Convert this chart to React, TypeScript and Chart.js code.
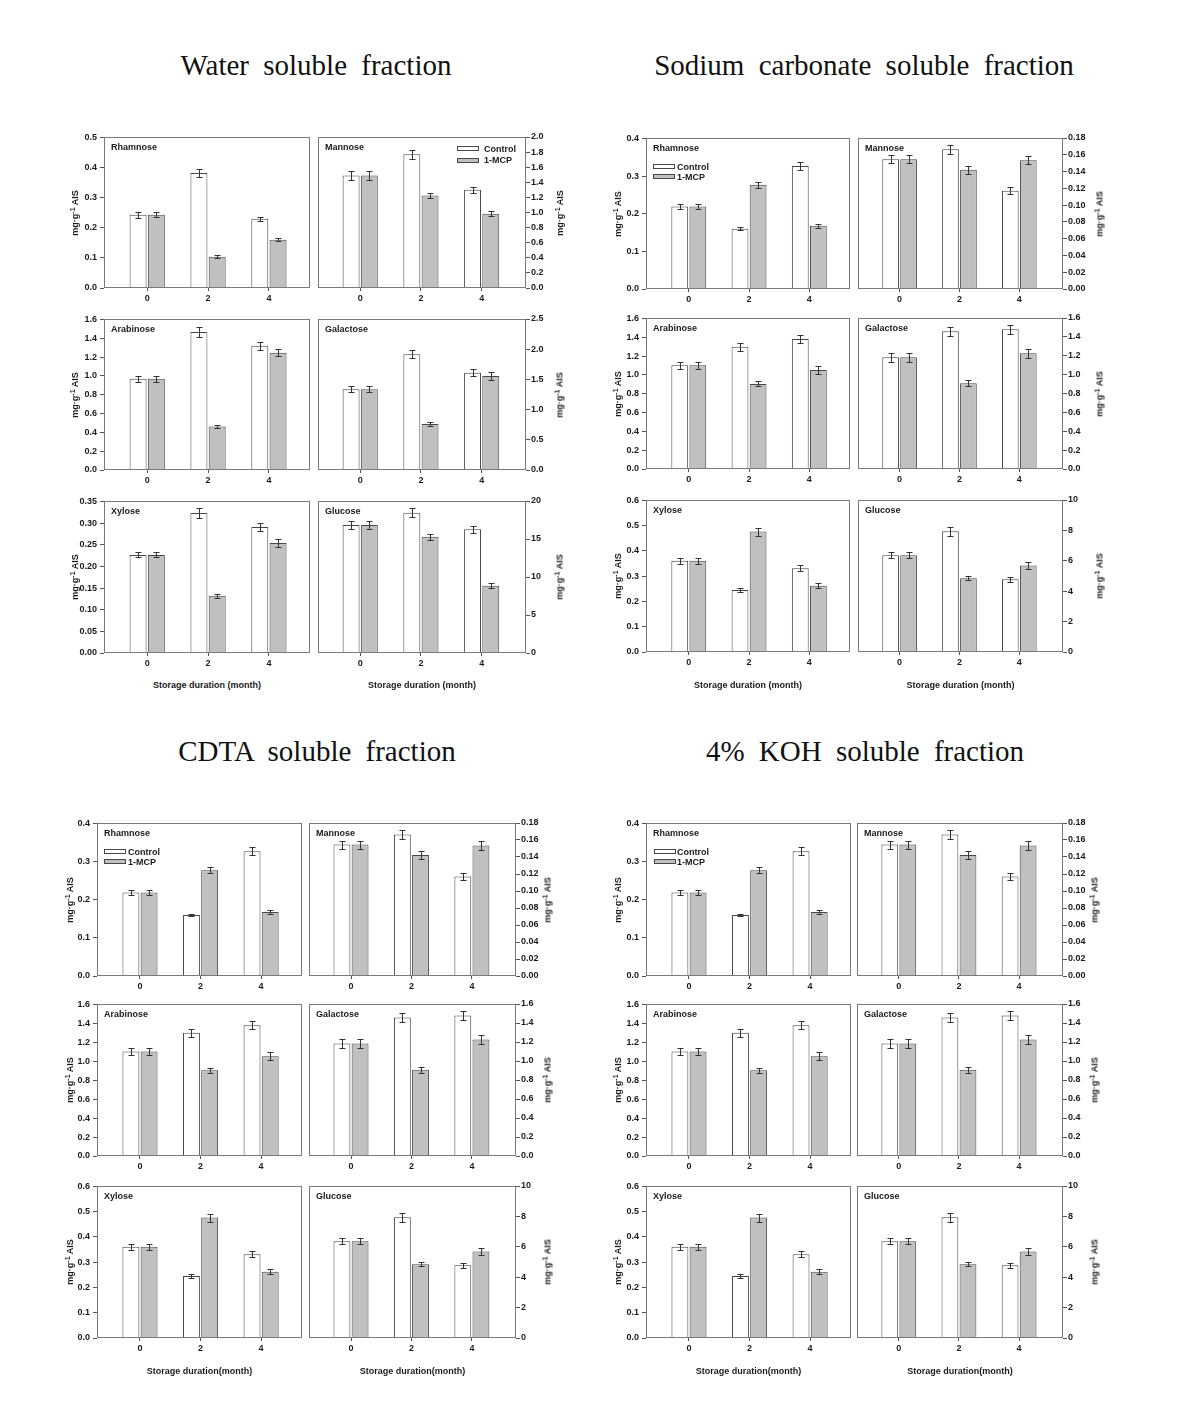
import React, { useEffect, useRef } from 'react';
import { Chart, registerables } from 'chart.js';

Chart.register(...registerables);

// ---------------- data ----------------
const months = [0, 2, 4];
const seriesNames = ['Control', '1-MCP'];

// Water soluble fraction
const wRhaCtl = [0.243, 0.382, 0.230];
const wRhaCtlErr = [0.009, 0.013, 0.007];
const wRhaMcp = [0.243, 0.104, 0.160];
const wRhaMcpErr = [0.008, 0.005, 0.005];
const wRhaTicks = [0, 0.1, 0.2, 0.3, 0.4, 0.5];

const wManCtl = [1.49, 1.77, 1.30];
const wManCtlErr = [0.055, 0.055, 0.044];
const wManMcp = [1.49, 1.225, 0.985];
const wManMcpErr = [0.055, 0.035, 0.033];
const wManTicks = [0, 0.2, 0.4, 0.6, 0.8, 1.0, 1.2, 1.4, 1.6, 1.8, 2.0];

const wAraCtl = [0.97, 1.466, 1.321];
const wAraCtlErr = [0.032, 0.048, 0.044];
const wAraMcp = [0.97, 0.463, 1.247];
const wAraMcpErr = [0.032, 0.012, 0.04];
const wAraTicks = [0, 0.2, 0.4, 0.6, 0.8, 1.0, 1.2, 1.4, 1.6];

const wGalCtl = [1.336, 1.915, 1.611];
const wGalCtlErr = [0.05, 0.066, 0.055];
const wGalMcp = [1.336, 0.762, 1.556];
const wGalMcpErr = [0.05, 0.03, 0.06];
const wGalTicks = [0, 0.5, 1.0, 1.5, 2.0, 2.5];

const wXylCtl = [0.2264, 0.3231, 0.2909];
const wXylCtlErr = [0.0058, 0.011, 0.009];
const wXylMcp = [0.2264, 0.132, 0.254];
const wXylMcpErr = [0.0058, 0.004, 0.009];
const wXylTicks = [0, 0.05, 0.10, 0.15, 0.20, 0.25, 0.30, 0.35];

const wGluCtl = [16.84, 18.46, 16.27];
const wGluCtlErr = [0.55, 0.6, 0.5];
const wGluMcp = [16.84, 15.3, 8.86];
const wGluMcpErr = [0.55, 0.42, 0.29];
const wGluTicks = [0, 5, 10, 15, 20];

// Sodium carbonate / CDTA / 4% KOH soluble fractions (the three blocks show the same values)
const sRhaCtl = [0.219, 0.160, 0.327];
const sRhaCtlErr = [0.006, 0.0035, 0.011];
const sRhaMcp = [0.219, 0.277, 0.168];
const sRhaMcpErr = [0.006, 0.008, 0.0053];
const sRhaTicks = [0, 0.1, 0.2, 0.3, 0.4];

const sManCtl = [0.1546, 0.1665, 0.117];
const sManCtlErr = [0.0048, 0.005, 0.004];
const sManMcp = [0.1546, 0.1423, 0.1535];
const sManMcpErr = [0.0048, 0.0048, 0.005];
const sManTicks = [0, 0.02, 0.04, 0.06, 0.08, 0.10, 0.12, 0.14, 0.16, 0.18];

const sAraCtl = [1.102, 1.30, 1.381];
const sAraCtlErr = [0.039, 0.042, 0.042];
const sAraMcp = [1.102, 0.904, 1.053];
const sAraMcpErr = [0.039, 0.026, 0.042];
const sAraTicks = [0, 0.2, 0.4, 0.6, 0.8, 1.0, 1.2, 1.4, 1.6];

const sGalCtl = [1.183, 1.459, 1.48];
const sGalCtlErr = [0.051, 0.049, 0.048];
const sGalMcp = [1.183, 0.908, 1.226];
const sGalMcpErr = [0.051, 0.03, 0.048];
const sGalTicks = [0, 0.2, 0.4, 0.6, 0.8, 1.0, 1.2, 1.4, 1.6];

const sXylCtl = [0.361, 0.2455, 0.331];
const sXylCtlErr = [0.011, 0.009, 0.012];
const sXylMcp = [0.361, 0.4766, 0.2626];
const sXylMcpErr = [0.011, 0.016, 0.01];
const sXylTicks = [0, 0.1, 0.2, 0.3, 0.4, 0.5, 0.6];

const sGluCtl = [6.37, 7.94, 4.79];
const sGluCtlErr = [0.21, 0.28, 0.16];
const sGluMcp = [6.37, 4.86, 5.69];
const sGluMcpErr = [0.21, 0.14, 0.25];
const sGluTicks = [0, 2, 4, 6, 8, 10];

// ---------------- types / panels ----------------
type PanelData = {
  name: string;
  ctl: number[];
  ctlErr: number[];
  mcp: number[];
  mcpErr: number[];
  yTicks: number[];
  decimals: number;
};

const waterPanels: PanelData[] = [
  { name: 'Rhamnose', ctl: wRhaCtl, ctlErr: wRhaCtlErr, mcp: wRhaMcp, mcpErr: wRhaMcpErr, yTicks: wRhaTicks, decimals: 1 },
  { name: 'Mannose', ctl: wManCtl, ctlErr: wManCtlErr, mcp: wManMcp, mcpErr: wManMcpErr, yTicks: wManTicks, decimals: 1 },
  { name: 'Arabinose', ctl: wAraCtl, ctlErr: wAraCtlErr, mcp: wAraMcp, mcpErr: wAraMcpErr, yTicks: wAraTicks, decimals: 1 },
  { name: 'Galactose', ctl: wGalCtl, ctlErr: wGalCtlErr, mcp: wGalMcp, mcpErr: wGalMcpErr, yTicks: wGalTicks, decimals: 1 },
  { name: 'Xylose', ctl: wXylCtl, ctlErr: wXylCtlErr, mcp: wXylMcp, mcpErr: wXylMcpErr, yTicks: wXylTicks, decimals: 2 },
  { name: 'Glucose', ctl: wGluCtl, ctlErr: wGluCtlErr, mcp: wGluMcp, mcpErr: wGluMcpErr, yTicks: wGluTicks, decimals: 0 },
];

const otherPanels: PanelData[] = [
  { name: 'Rhamnose', ctl: sRhaCtl, ctlErr: sRhaCtlErr, mcp: sRhaMcp, mcpErr: sRhaMcpErr, yTicks: sRhaTicks, decimals: 1 },
  { name: 'Mannose', ctl: sManCtl, ctlErr: sManCtlErr, mcp: sManMcp, mcpErr: sManMcpErr, yTicks: sManTicks, decimals: 2 },
  { name: 'Arabinose', ctl: sAraCtl, ctlErr: sAraCtlErr, mcp: sAraMcp, mcpErr: sAraMcpErr, yTicks: sAraTicks, decimals: 1 },
  { name: 'Galactose', ctl: sGalCtl, ctlErr: sGalCtlErr, mcp: sGalMcp, mcpErr: sGalMcpErr, yTicks: sGalTicks, decimals: 1 },
  { name: 'Xylose', ctl: sXylCtl, ctlErr: sXylCtlErr, mcp: sXylMcp, mcpErr: sXylMcpErr, yTicks: sXylTicks, decimals: 1 },
  { name: 'Glucose', ctl: sGluCtl, ctlErr: sGluCtlErr, mcp: sGluMcp, mcpErr: sGluMcpErr, yTicks: sGluTicks, decimals: 0 },
];

// ---------------- layout ----------------
type BlockLayout = {
  title: string;
  titleX: number;
  titleY: number;
  xTitle: string;
  xTitleY: number;
  colLeft: number[];
  colWidth: number[];
  yTitleX: number[];
  rowTop: number[];
  rowHeight: number[];
  legend: { panel: number; dx: number; dy: number; textDx: number; rowGap: number };
  panels: PanelData[];
};

const blocks: BlockLayout[] = [
  {
    title: 'Water soluble fraction', titleX: 316, titleY: 65,
    xTitle: 'Storage duration (month)', xTitleY: 685,
    colLeft: [104, 318], colWidth: [206, 208], yTitleX: [75, 560],
    rowTop: [137, 319, 501], rowHeight: [151, 151, 152],
    legend: { panel: 1, dx: 139, dy: 9, textDx: 27, rowGap: 11.5 },
    panels: waterPanels,
  },
  {
    title: 'Sodium carbonate soluble fraction', titleX: 864, titleY: 65,
    xTitle: 'Storage duration (month)', xTitleY: 685,
    colLeft: [646, 858], colWidth: [204, 205], yTitleX: [618, 1100],
    rowTop: [138, 318, 500], rowHeight: [151, 151, 152],
    legend: { panel: 0, dx: 7, dy: 26, textDx: 24, rowGap: 10 },
    panels: otherPanels,
  },
  {
    title: 'CDTA soluble fraction', titleX: 317, titleY: 751,
    xTitle: 'Storage duration(month)', xTitleY: 1371,
    colLeft: [97, 309], colWidth: [205, 207], yTitleX: [70, 548],
    rowTop: [823, 1004, 1186], rowHeight: [153, 152, 152],
    legend: { panel: 0, dx: 7, dy: 26, textDx: 24, rowGap: 10 },
    panels: otherPanels,
  },
  {
    title: '4% KOH soluble fraction', titleX: 865, titleY: 751,
    xTitle: 'Storage duration(month)', xTitleY: 1371,
    colLeft: [646, 857], colWidth: [205, 206], yTitleX: [618, 1095],
    rowTop: [823, 1004, 1186], rowHeight: [153, 152, 152],
    legend: { panel: 0, dx: 8, dy: 26, textDx: 23, rowGap: 10 },
    panels: otherPanels,
  },
];

const X_RANGE = [
  [-1.42, 5.35],
  [-1.39, 5.46],
];
const AXIS_ROOM = 46;
const EDGE = 6;
const TOP_ROOM = 8;
const BOTTOM_ROOM = 22;
const FONT = '"Liberation Sans", Arial, Helvetica, sans-serif';
const TEXT_COLOR = '#1a1a1a';
const BAR_BORDER = '#474747';
const FRAME_COLOR = '#7a7a7a';
const MCP_FILL = '#c0c0c0';

// ---------------- plugins ----------------
const framePlugin = {
  id: 'frameBox',
  afterDatasetsDraw(chart: any) {
    const { ctx, chartArea: a } = chart;
    ctx.save();
    ctx.strokeStyle = FRAME_COLOR;
    ctx.lineWidth = 1;
    ctx.strokeRect(Math.round(a.left) + 0.5, Math.round(a.top) + 0.5, Math.round(a.right - a.left) - 1, Math.round(a.bottom - a.top) - 1);
    ctx.restore();
  },
};

const errorBarPlugin = {
  id: 'errorBars',
  afterDraw(chart: any) {
    const { ctx } = chart;
    const yScale = chart.scales.y;
    chart.data.datasets.forEach((ds: any, di: number) => {
      const meta = chart.getDatasetMeta(di);
      const errs: number[] = ds.errors || [];
      meta.data.forEach((bar: any, i: number) => {
        const v = ds.data[i].y;
        const e = errs[i] || 0;
        const yTop = Math.round(yScale.getPixelForValue(v + e)) + 0.5;
        const yBot = Math.round(yScale.getPixelForValue(v - e)) + 0.5;
        const x = Math.round(bar.x) + 0.5;
        ctx.save();
        ctx.strokeStyle = '#333333';
        ctx.lineWidth = 1;
        ctx.beginPath();
        ctx.moveTo(x, yTop);
        ctx.lineTo(x, yBot);
        ctx.moveTo(x - 3, yTop);
        ctx.lineTo(x + 3, yTop);
        ctx.moveTo(x - 3, yBot);
        ctx.lineTo(x + 3, yBot);
        ctx.stroke();
        ctx.restore();
      });
    });
  },
};

// ---------------- components ----------------
type PanelProps = {
  data: PanelData;
  side: 'left' | 'right';
  left: number;
  top: number;
  width: number;
  height: number;
  xMin: number;
  xMax: number;
};

function BarPanel({ data, side, left, top, width, height, xMin, xMax }: PanelProps) {
  const ref = useRef<HTMLCanvasElement>(null);
  const cw = width + AXIS_ROOM + EDGE;
  const ch = height + TOP_ROOM + BOTTOM_ROOM;
  const cl = side === 'left' ? left - AXIS_ROOM : left - EDGE;

  useEffect(() => {
    const canvas = ref.current;
    if (!canvas) return;
    const yTicks = data.yTicks;
    const tickFont = { family: FONT, size: 9, weight: 'bold' as const };
    const chart = new Chart(canvas, {
      type: 'bar',
      data: {
        datasets: [
          {
            label: seriesNames[0],
            data: months.map((m, i) => ({ x: m, y: data.ctl[i] })),
            backgroundColor: '#ffffff',
            borderColor: BAR_BORDER,
            borderWidth: 1,
            categoryPercentage: 0.6,
            barPercentage: 0.93,
            errors: data.ctlErr,
          } as any,
          {
            label: seriesNames[1],
            data: months.map((m, i) => ({ x: m, y: data.mcp[i] })),
            backgroundColor: MCP_FILL,
            borderColor: BAR_BORDER,
            borderWidth: 1,
            categoryPercentage: 0.6,
            barPercentage: 0.93,
            errors: data.mcpErr,
          } as any,
        ],
      },
      options: {
        responsive: false,
        maintainAspectRatio: false,
        animation: false,
        devicePixelRatio: 1,
        layout: {
          padding:
            side === 'left'
              ? { left: 0, right: EDGE, top: TOP_ROOM, bottom: 0 }
              : { left: EDGE, right: 0, top: TOP_ROOM, bottom: 0 },
        },
        plugins: {
          legend: { display: false },
          tooltip: { enabled: false },
          title: { display: false },
        },
        scales: {
          x: {
            type: 'linear',
            min: xMin,
            max: xMax,
            offset: false,
            afterBuildTicks: (s: any) => {
              s.ticks = months.map((v) => ({ value: v }));
            },
            afterFit: (s: any) => {
              s.height = BOTTOM_ROOM;
            },
            grid: { display: true, drawOnChartArea: false, drawTicks: true, tickLength: 3, color: '#555555', offset: false },
            border: { display: false },
            ticks: {
              font: tickFont,
              color: TEXT_COLOR,
              padding: 2,
              maxRotation: 0,
              autoSkip: false,
              callback: (v: any) => String(v),
            },
          },
          y: {
            type: 'linear',
            position: side,
            min: yTicks[0],
            max: yTicks[yTicks.length - 1],
            afterBuildTicks: (s: any) => {
              s.ticks = yTicks.map((v) => ({ value: v }));
            },
            afterFit: (s: any) => {
              s.width = AXIS_ROOM;
            },
            grid: { display: true, drawOnChartArea: false, drawTicks: true, tickLength: 4, color: '#555555' },
            border: { display: false },
            ticks: {
              font: tickFont,
              color: TEXT_COLOR,
              padding: side === 'left' ? 3 : 1,
              autoSkip: false,
              callback: (v: any) => Number(v).toFixed(data.decimals),
            },
          },
        },
      } as any,
      plugins: [framePlugin, errorBarPlugin],
    });
    return () => chart.destroy();
  }, []);

  return (
    <canvas
      ref={ref}
      width={cw}
      height={ch}
      style={{ position: 'absolute', left: cl, top: top - TOP_ROOM, width: cw, height: ch }}
    />
  );
}

const smallBold: React.CSSProperties = {
  position: 'absolute',
  fontFamily: FONT,
  fontWeight: 'bold',
  fontSize: 9,
  color: TEXT_COLOR,
  whiteSpace: 'nowrap',
  lineHeight: '10px',
};

function YTitle({ x, y }: { x: number; y: number }) {
  return (
    <div
      style={{
        ...smallBold,
        left: x,
        top: y,
        transform: 'translate(-50%, -50%) rotate(-90deg)',
      }}
    >
      mg·g<span style={{ fontSize: 7, position: 'relative', top: -3 }}>-1</span> AIS
    </div>
  );
}

function Legend({ x, y, textDx, rowGap }: { x: number; y: number; textDx: number; rowGap: number }) {
  const fills = ['#ffffff', MCP_FILL];
  return (
    <>
      {seriesNames.map((n, i) => (
        <React.Fragment key={n}>
          <div
            style={{
              position: 'absolute',
              left: x,
              top: y + i * rowGap,
              width: 22,
              height: 5,
              boxSizing: 'border-box',
              border: `1px solid ${BAR_BORDER}`,
              background: fills[i],
            }}
          />
          <div style={{ ...smallBold, left: x + textDx, top: y + i * rowGap - 2.5 }}>{n}</div>
        </React.Fragment>
      ))}
    </>
  );
}

function Block({ b }: { b: BlockLayout }) {
  const items: React.ReactNode[] = [];
  b.panels.forEach((p, idx) => {
    const row = Math.floor(idx / 2);
    const col = idx % 2;
    const left = b.colLeft[col];
    const top = b.rowTop[row];
    const width = b.colWidth[col];
    const height = b.rowHeight[row];
    items.push(
      <BarPanel
        key={'c' + idx}
        data={p}
        side={col === 0 ? 'left' : 'right'}
        left={left}
        top={top}
        width={width}
        height={height}
        xMin={X_RANGE[col][0]}
        xMax={X_RANGE[col][1]}
      />
    );
    items.push(
      <div key={'n' + idx} style={{ ...smallBold, left: left + 7, top: top + 5 }}>
        {p.name}
      </div>
    );
    items.push(<YTitle key={'y' + idx} x={b.yTitleX[col]} y={top + height / 2} />);
    if (idx === b.legend.panel) {
      items.push(
        <Legend
          key={'l' + idx}
          x={left + b.legend.dx}
          y={top + b.legend.dy}
          textDx={b.legend.textDx}
          rowGap={b.legend.rowGap}
        />
      );
    }
  });
  [0, 1].forEach((col) => {
    items.push(
      <div
        key={'xt' + col}
        style={{
          ...smallBold,
          left: b.colLeft[col] + b.colWidth[col] / 2,
          top: b.xTitleY,
          transform: 'translate(-50%, -50%)',
        }}
      >
        {b.xTitle}
      </div>
    );
  });
  items.push(
    <div
      key="title"
      style={{
        position: 'absolute',
        left: b.titleX,
        top: b.titleY,
        transform: 'translate(-50%, -50%)',
        fontFamily: '"Liberation Serif", "Times New Roman", serif',
        fontSize: 29,
        wordSpacing: 7,
        color: '#111111',
        whiteSpace: 'nowrap',
        lineHeight: '32px',
      }}
    >
      {b.title}
    </div>
  );
  return <>{items}</>;
}

export default function App() {
  return (
    <div
      style={{
        position: 'absolute',
        left: 0,
        top: 0,
        width: 1198,
        height: 1413,
        background: '#ffffff',
        overflow: 'hidden',
      }}
    >
      {blocks.map((b, i) => (
        <Block key={i} b={b} />
      ))}
    </div>
  );
}
